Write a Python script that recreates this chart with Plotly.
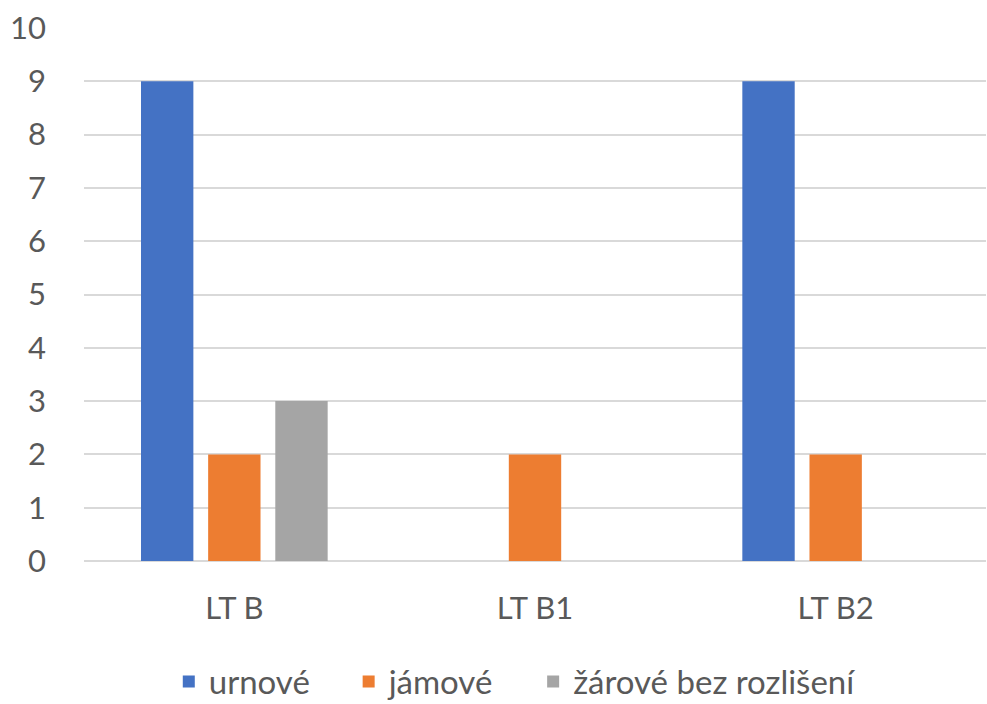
import plotly.graph_objects as go

categories = ['LT B', 'LT B1', 'LT B2']
urnove = [9, 0, 9]
jamove = [2, 2, 2]
zarove = [3, 0, 0]

series = [
    ('urnové', urnove, '#4472C4'),
    ('jámové', jamove, '#ED7D31'),
    ('žárové bez rozlišení', zarove, '#A5A5A5'),
]

pad = '\u00a0' * 4  # extra room between legend entries

fig = go.Figure()
for i, (name, vals, col) in enumerate(series):
    label = name + (pad if i < len(series) - 1 else '')
    fig.add_trace(go.Bar(x=categories, y=vals, name=label,
                         marker=dict(color=col, line=dict(width=0))))

fig.update_layout(
    width=987, height=704,
    barmode='group', bargap=0.33, bargroupgap=0.22,
    plot_bgcolor='white', paper_bgcolor='white',
    font=dict(family='Lato, Open Sans, sans-serif', size=31, color='#595959'),
    margin=dict(l=84, r=1, t=28, b=143, autoexpand=False),
    showlegend=True,
    legend=dict(orientation='h', x=0.094, xanchor='left', y=-0.226, yanchor='middle',
                font=dict(size=33), traceorder='normal'),
    xaxis=dict(showgrid=False, showline=False, ticks='', ticklabelstandoff=26, automargin=False),
    yaxis=dict(range=[0, 10], dtick=1, showgrid=True, gridcolor='#D9D9D9', gridwidth=2,
               zeroline=True, zerolinecolor='#D9D9D9', zerolinewidth=2,
               ticks='', ticklabelstandoff=37, automargin=False),
)

# page body has a default 8px margin; drop it so the figure fills the window
fig.write_html('out.html', config={'displayModeBar': False},
               post_script="document.body.style.margin='0';")
